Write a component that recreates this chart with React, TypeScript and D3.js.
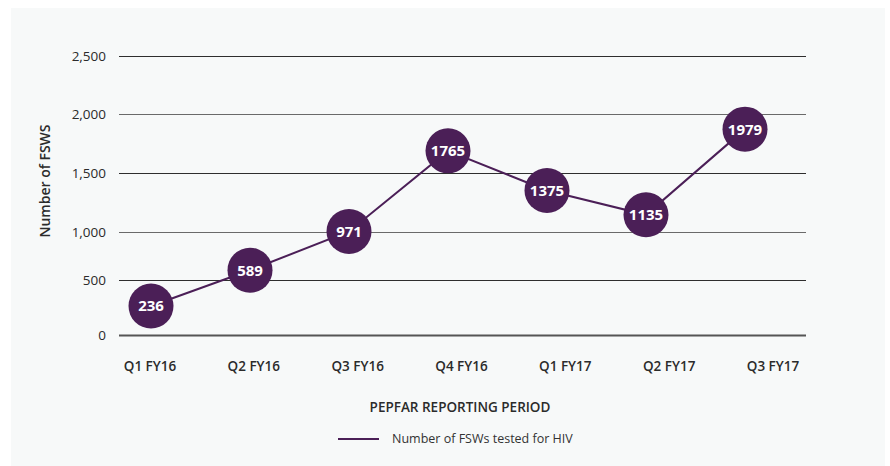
import { useEffect, useRef } from "react";
import * as d3 from "d3";

const periods = ["Q1 FY16", "Q2 FY16", "Q3 FY16", "Q4 FY16", "Q1 FY17", "Q2 FY17", "Q3 FY17"];
const tested = [236, 589, 971, 1765, 1375, 1135, 1979];
const yTicks = [0, 500, 1000, 1500, 2000, 2500];

const xAxisTitle = "PEPFAR REPORTING PERIOD";
const yAxisTitle = "Number of FSWS";
const legendLabel = "Number of FSWs tested for HIV";

const W = 890;
const H = 466;
const font = "'Open Sans', 'DejaVu Sans', sans-serif";
const purple = "#4b1f57";

const App = () => {
    const svgRef = useRef<SVGSVGElement>(null);

    useEffect(() => {
        const svg = d3.select(svgRef.current);
        svg.selectAll("*").remove();

        // panel background
        svg.append("rect")
            .attr("x", 11).attr("y", 8)
            .attr("width", 874).attr("height", H - 8)
            .attr("fill", "#f7f9f9");

        // the original's gridlines are not evenly spaced, so use a polylinear scale
        const yScale = d3.scaleLinear()
            .domain(yTicks)
            .range([335, 280, 232, 173, 114, 56]);
        // markers in the original sit on their own (slightly compressed) scale
        const yMark = d3.scaleLinear().domain([0, 2000]).range([330, 127]);
        // labels and markers sit on slightly different spacing in the original
        const xLabel = d3.scalePoint().domain(periods).range([150, 773]);
        const xMark = d3.scalePoint().domain(periods).range([151, 745]);

        // gridlines
        svg.append("g")
            .selectAll("line")
            .data(yTicks)
            .enter()
            .append("line")
            .attr("x1", 119).attr("x2", 806)
            .attr("y1", (d) => yScale(d) + 0.5).attr("y2", (d) => yScale(d) + 0.5)
            .attr("stroke", (d) => (d === 0 ? "#555" : (d / 500) % 2 === 1 ? "#2e2e2e" : "#6a6a6a"))
            .attr("stroke-width", (d) => (d === 0 ? 2 : 1.2));

        // y tick labels
        svg.append("g")
            .selectAll("text")
            .data(yTicks)
            .enter()
            .append("text")
            .attr("x", 106)
            .attr("y", (d) => yScale(d))
            .attr("dy", "0.35em")
            .attr("text-anchor", "end")
            .style("font-family", font)
            .style("font-size", "13.5px")
            .style("fill", "#2b2b2b")
            .text((d) => d3.format(",")(d));

        // x tick labels
        svg.append("g")
            .selectAll("text")
            .data(periods)
            .enter()
            .append("text")
            .attr("x", (d) => xLabel(d) as number)
            .attr("y", 371)
            .attr("text-anchor", "middle")
            .style("font-family", font)
            .style("font-size", "13.5px")
            .style("font-weight", 600)
            .style("fill", "#2b2b2b")
            .text((d) => d);

        // axis titles
        svg.append("text")
            .attr("x", 460).attr("y", 412)
            .attr("text-anchor", "middle")
            .style("font-family", font)
            .style("font-size", "13.5px")
            .style("font-weight", 600)
            .style("fill", "#2b2b2b")
            .text(xAxisTitle);

        svg.append("text")
            .attr("transform", "rotate(-90)")
            .attr("x", -181).attr("y", 50)
            .attr("text-anchor", "middle")
            .style("font-family", font)
            .style("font-size", "14px")
            .style("font-weight", 600)
            .style("fill", "#2b2b2b")
            .text(yAxisTitle);

        // line
        const line = d3.line<number>()
            .x((d, i) => xMark(periods[i]) as number)
            .y((d) => yMark(d));

        svg.append("path")
            .datum(tested)
            .attr("d", line)
            .attr("fill", "none")
            .attr("stroke", purple)
            .attr("stroke-width", 2);

        // markers with value labels
        const marks = svg.append("g")
            .selectAll("g")
            .data(tested)
            .enter()
            .append("g")
            .attr("transform", (d, i) => `translate(${xMark(periods[i])}, ${yMark(d)})`);

        marks.append("circle")
            .attr("r", 22.5)
            .attr("fill", purple);

        marks.append("text")
            .attr("text-anchor", "middle")
            .attr("dy", "0.36em")
            .style("font-family", font)
            .style("font-size", "15px")
            .style("font-weight", 700)
            .style("fill", "#fff")
            .text((d) => d);

        // legend
        svg.append("line")
            .attr("x1", 338).attr("x2", 379)
            .attr("y1", 439).attr("y2", 439)
            .attr("stroke", purple)
            .attr("stroke-width", 2);

        svg.append("text")
            .attr("x", 392).attr("y", 439)
            .attr("dy", "0.35em")
            .style("font-family", font)
            .style("font-size", "12.5px")
            .style("fill", "#333")
            .text(legendLabel);
    }, []);

    return (
        <svg
            ref={svgRef}
            width={W}
            height={H}
            viewBox={`0 0 ${W} ${H}`}
            style={{ position: "absolute", top: 0, left: 0, background: "#fff" }}
        ></svg>
    );
};

export default App;
